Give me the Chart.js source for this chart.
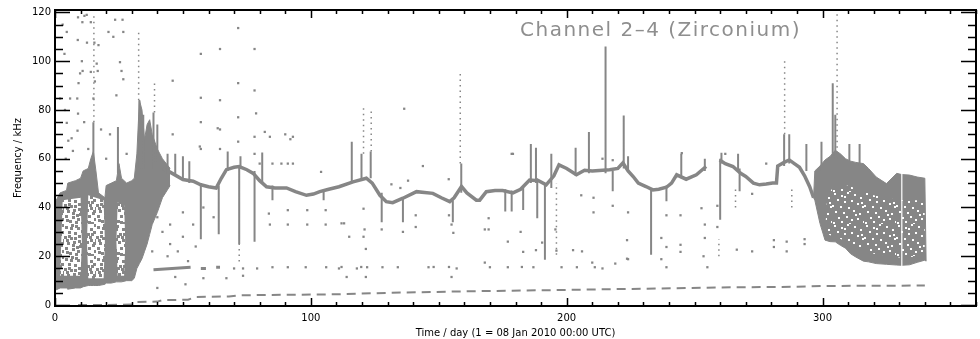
<!DOCTYPE html>
<html>
<head>
<meta charset="utf-8">
<script src="https://cdn.jsdelivr.net/npm/chart.js@4.4.1/dist/chart.umd.min.js"></script>
<style>
  html, body { margin: 0; padding: 0; background: #fff; }
</style>
</head>
<body>
<canvas id="chart" width="980" height="339"></canvas>
<script>
const TITLE = 'Channel 2\u20134 (Zirconium)';
const X_TITLE = 'Time / day (1 = 08 Jan 2010 00:00 UTC)';
const Y_TITLE = 'Frequency / kHz';
const xTicks = [0, 100, 200, 300];
const yTicks = [0, 20, 40, 60, 80, 100, 120];

// early noisy block (days 0-45), outer envelope
const earlyDays = [0, 2, 4.5, 5, 8, 10, 11, 13, 14, 15, 16, 17, 19.5, 20, 22, 24, 25, 26, 28, 30, 31, 32, 33, 34, 35, 36, 37, 38, 40, 42, 45];
const earlyTop  = [42, 46, 47, 50, 51, 52, 55, 56, 60, 63, 55, 46, 44, 49, 50, 51, 58, 52, 50, 51, 52, 62, 84, 80, 68, 74, 76, 70, 64, 60, 56];
const earlyBot  = [6, 7, 7, 6.5, 7, 7, 7.5, 8, 8, 8, 8, 8, 8.5, 9, 9, 9.5, 9.5, 9.5, 10, 10, 11, 15, 17, 19, 22, 25, 29, 33, 38, 44, 49];
// speckled (sparse) parts inside the early block
const earlyInDays = [2, 3, 10, 10.5, 12.5, 13, 19, 19.5, 24, 24.5, 27, 27.5];
const earlyInTop  = [12, 43, 44, 26, 26, 45, 43, 26, 26, 42, 41, 26];
const earlyInBot  = [12, 12, 12, 26, 26, 11, 11, 26, 26, 12, 12, 26];

// late broad block (days 296-341)
const lateDays = [296.5, 297, 299, 301, 303, 305, 307, 309, 311, 313, 316, 318, 321, 325, 329, 331, 334, 337, 340, 340.5];
const lateTop  = [44, 55, 57, 59.5, 61, 63.5, 62, 60, 59, 58.5, 58, 56, 52.5, 49.8, 54, 53.5, 53.3, 52.5, 52, 18];
const lateBot  = [44, 43, 33.5, 26.6, 26, 25.9, 24.5, 23.3, 21, 19.7, 18, 17.7, 17, 16.7, 16.4, 16.3, 16.5, 17.5, 18.4, 18];
const lateInDays = [301, 302, 310, 320, 330, 340];
const lateInTop  = [30, 47, 49, 45, 43, 43];
const lateInBot  = [30, 29, 26, 21, 19.5, 20];
const gapDays = [331];
const gapLo = [16];
const gapHi = [54.5];

// main ridge
const ridgeDays = [42, 45, 50, 54, 57, 60, 63, 65, 67, 70, 72, 75, 77.5, 80, 82.7, 86, 90.5, 94, 98.3, 101, 103.5, 107, 111, 116.5, 121.7, 124, 127, 129.5, 132, 136, 141.3, 147.7, 151, 154.3, 156, 158.9, 161, 164.7, 166, 168.6, 172, 175, 179, 182, 185.5, 189, 192, 195, 197, 200, 203.8, 207, 210, 216.8, 220, 222, 224, 226, 228, 231, 233.7, 236, 239, 241, 243, 246.7, 250.7, 254.5, 257, 259.8, 262, 265, 268, 270, 273, 275.4, 278, 280.5, 282, 282.5, 285, 287, 289, 291, 293, 295, 296.5];
const ridgeFreq = [56, 54.5, 51.5, 50.8, 49.3, 48.5, 48, 52, 55.5, 56.5, 56.8, 55.5, 54, 51, 48.5, 48, 48, 46.5, 45, 45.5, 46.5, 47.5, 48.5, 50.5, 52, 50, 45, 42.4, 42, 43.8, 46.5, 45.8, 44, 42.4, 44, 48.6, 46, 43, 43, 46.5, 47, 47, 46, 47.5, 51.3, 51, 49.3, 53, 57.5, 56, 53.4, 55.3, 55, 55.5, 56, 58.3, 55, 52.7, 50, 48.6, 47.2, 47.5, 48.3, 50, 53.4, 51.6, 53.4, 56.8, null, 59.5, 58, 56.8, 54, 52.7, 50, 49.3, 49.6, 50, 50, 57, 58.5, 59.5, 58, 56.5, 53, 48.5, 44];

// solid vertical excursions
const spikeDays = [15, 24.6, 33, 34.5, 38.5, 40, 44, 47, 50, 52.5, 57, 64, 67.5, 72, 72.5, 78, 81, 85, 105, 116, 119.8, 123.4, 127.7, 136, 155.5, 158.8, 176, 178.5, 183, 186, 188, 188.5, 191.5, 194, 203.5, 208.7, 215.2, 218, 222.3, 224, 233, 239, 244.8, 254, 260, 260.5, 267, 267.6, 285, 287, 293.7, 299.6, 304, 305, 310.5, 314.5];
const spikeLo   = [54, 54, 56, 56, 56, 56, 54, 53, 51, 50, 27, 29, 55, 25, 56, 26, 50, 43, 43, 50, 52, 52, 34, 34, 34, 46, 38.4, 38.4, 39, 50, 50, 35.6, 18.6, 48, 53, 54, 54, 46.7, 56, 55, 20.6, 42.6, 52, 55, 35, 58, 55, 46.7, 57, 58, 55, 55, 60, 60, 58, 57];
const spikeHi   = [75, 73, 84, 78, 79, 74, 62, 62, 61, 59, 50, 49, 63, 57, 61, 55, 62.6, 49, 47, 67, 62, 63, 46, 44, 43, 58, 47.5, 47, 48, 66, 64.5, 52, 50, 62, 64.5, 71, 106, 55, 77.7, 61, 48, 49, 62, 60, 60, 62.5, 62, 56, 70, 70, 66, 67, 91, 78, 66, 66];

// dotted vertical columns
const colDays = [15.2, 32.7, 38.9, 72, 120.6, 123.6, 158.4, 196, 259.5, 266, 285.2, 288, 305.7];
const colLo   = [75, 84, 79, 17.8, 62, 63, 58, 20.6, 20, 40, 70, 40, 60];
const colHi   = [120, 113, 91, 25, 81, 80, 95, 50, 27, 48, 100, 48, 121];

// low drifting trace
const lowDays = [9, 20, 30, 32, 40, 42, 52, 55, 68, 72, 110, 130, 160, 200, 230, 260, 290, 300, 340];
const lowFreq = [0, 0, 0.2, 1.2, 1.4, 2, 2.2, 3.3, 3.5, 4, 4.4, 5, 5.6, 6.2, 6.7, 7.2, 7.5, 7.8, 8];

// short band near 15 kHz
const band15Days = [38.5, 53, null, 57, 59, null, 63, 64.5];
const band15Freq = [14.5, 15.5, null, 15, 15, null, 15.5, 15.5];

// isolated points
const dotDays = [3, 9, 10.7, 11.5, 12.4, 14, 4.6, 8.9, 12.5, 15.4, 17, 10.5, 16.3, 16.7, 10.8, 9.8, 14, 9.2, 15.6, 8.7, 15, 5.9, 2, 3.9, 9, 4.6, 11.4, 8.8, 5.2, 7, 4.2, 20.9, 22.8, 23.5, 26.4, 26.7, 25.4, 26, 26.7, 24, 21.5, 6.5, 3.7, 18, 13, 28, 20,
  46, 46, 57, 57, 57, 57, 64.5, 64.5, 64.5, 64.5, 71.6, 71.6, 71.6, 71.6, 78, 78, 78.6, 78, 78, 90, 92, 93, 88.5, 91, 93, 136.5, 178.5, 262, 278, 56.6, 63.6, 82, 84, 80, 85, 104, 135, 131.5, 138, 143.8, 153.9, 179, 214, 218, 245,
  40, 42, 45, 48, 52, 55, 45, 50, 38, 44, 50, 58, 62, 54, 40, 51, 47, 58, 67,
  70, 73.5, 73.5, 79, 85, 91, 98, 106, 111, 118, 122, 128, 134, 146, 157, 170, 177, 187, 198, 204, 211, 214, 239, 255,
  112, 115, 121, 121.5, 112, 119.7, 148, 154, 114, 121.5, 155, 154, 155, 168, 168, 182.5, 190.4, 195.6, 196, 202.5, 210, 219, 224, 237, 237, 224, 218,
  91, 98.6, 105.8, 113, 83.6, 84, 91, 98.6, 105.8, 120.6, 120.6, 127.7, 141, 141, 136, 155.7, 169.5, 169.5, 177, 182, 183, 188, 206, 205.7, 210.5, 210.5, 223.6, 223.6, 239, 239, 252.7, 254, 254, 253.5, 266.5, 281, 281,
  244.5, 244.5, 244.5, 258.9, 258.9, 272.5, 272.5, 286, 286, 293, 293];
const dotFreq = [115, 118, 116, 118.6, 119, 116, 112, 108.7, 107.6, 107.6, 106.6, 100, 99, 96, 96, 95, 95.6, 91, 91.7, 84.7, 84.7, 84.7, 84.7, 80, 78.5, 74.7, 75, 71.5, 67.4, 63.2, 60, 112, 110, 117, 117, 112, 99.6, 96, 92.6, 86, 70, 68.4, 103, 72, 64, 62, 60,
  92, 70, 103, 85, 75, 64, 105, 84, 72, 64, 113.6, 91, 77, 67, 105, 88, 78.6, 69, 62, 70, 68, 69, 58, 58, 58, 80.5, 62, 62, 58, 65, 72.5, 71, 69, 58, 58, 54.6, 48, 49.5, 51, 57, 51.6, 62, 60, 59.4, 62.3,
  36, 30, 25, 22, 18, 24, 33, 28, 22, 20, 38, 40, 36, 33, 7, 8.5, 11.5, 11, 11,
  15, 15, 12, 15, 15.5, 15.5, 15.5, 15.5, 15, 15, 15.5, 15.5, 15.5, 15.5, 15, 15.5, 15.5, 15.5, 15.5, 15.5, 15.5, 15, 15.5, 15.5,
  33.5, 28, 31, 23, 15.6, 15.6, 15.6, 15.6, 11.5, 11.5, 11.5, 36.8, 33, 31, 17.4, 15.6, 25.6, 31, 22.3, 22.5, 17.4, 17, 18.8, 27.5, 18.8, 38, 40.7,
  38.9, 38.9, 38.9, 33.5, 37.5, 33, 33, 33, 33, 39.5, 28, 31, 36.8, 32, 30, 29.6, 35.6, 31, 26, 30, 21.8, 22.5, 22, 45, 44, 38, 26.6, 19, 36.8, 23.8, 39.7, 33, 27.5, 20, 22.7, 26.6, 23.8,
  36.8, 24.7, 21.8, 40.7, 32, 45.6, 22, 26, 22, 27, 25];

const GRAY = '#868686';
const font = { family: '"DejaVu Sans", sans-serif', size: 10 };

const pts = (xs, ys) => xs.map((x, i) => ({ x: x, y: ys[i] }));
const segs = (xs, lo, hi) => xs.flatMap((x, i) => [{ x: x, y: lo[i] }, { x: x, y: hi[i] }, { x: x, y: null }]);

const canvas = document.getElementById('chart');
const ctx = canvas.getContext('2d');

// speckle tiles (32x32) for the noisy regions
function speckle(base, spot, spots, w, h) {
    const tile = document.createElement('canvas');
    tile.width = 32;
    tile.height = 32;
    const g = tile.getContext('2d');
    g.fillStyle = base;
    g.fillRect(0, 0, 32, 32);
    g.fillStyle = spot;
    spots.forEach(([sx, sy]) => g.fillRect(sx, sy, w, h));
    return ctx.createPattern(tile, 'repeat');
}
const lightSpots = [[1, 2], [7, 0], [13, 3], [20, 1], [26, 4], [30, 0], [4, 7], [10, 8], [17, 6], [23, 9], [29, 7], [0, 12], [6, 13], [14, 11], [19, 14], [25, 12], [31, 15],
    [3, 18], [9, 17], [16, 19], [22, 17], [28, 20], [1, 23], [8, 24], [12, 22], [18, 25], [24, 23], [30, 26], [5, 28], [11, 29], [17, 30], [21, 28], [27, 30], [14, 16], [6, 3], [24, 29],
    [10, 13], [27, 9], [2, 27], [19, 4], [13, 26], [29, 18], [4, 11], [21, 11], [15, 21], [26, 15], [8, 20], [2, 15], [11, 1], [18, 28]];
const darkSpots = [[2, 1], [9, 3], [15, 0], [22, 2], [28, 5], [5, 7], [12, 9], [19, 8], [25, 11], [0, 13], [8, 14], [16, 15], [30, 14], [3, 19], [11, 20], [21, 18], [27, 21],
    [6, 25], [14, 24], [19, 27], [25, 26], [31, 29], [1, 30], [9, 29], [17, 31], [23, 22], [12, 4], [29, 10]];
const lightSpeckle = speckle('#ffffff', GRAY, lightSpots, 3, 3);
const darkSpeckle = speckle(GRAY, '#ffffff', darkSpots, 2, 2);

const edge = (data, extra) => Object.assign({ data: data, borderWidth: 0, pointRadius: 0, fill: false }, extra);

const frameTicks = {
    id: 'frameTicks',
    afterDraw(chart) {
        const { ctx: c, chartArea: a, scales: { x, y } } = chart;
        c.save();
        c.strokeStyle = '#000';
        c.lineWidth = 1.5;
        c.beginPath();
        for (let v = 0; v <= 360; v += 10) {
            const px = Math.round(x.getPixelForValue(v)) + 0.5;
            const len = v % 100 === 0 ? 8 : 4;
            c.moveTo(px, a.bottom); c.lineTo(px, a.bottom - len);
            c.moveTo(px, a.top); c.lineTo(px, a.top + len);
        }
        for (let v = 0; v <= 120; v += 5) {
            const py = Math.round(y.getPixelForValue(v)) + 0.5;
            const len = v % 20 === 0 ? 15 : 8;
            c.moveTo(a.left, py); c.lineTo(a.left + len, py);
            c.moveTo(a.right, py); c.lineTo(a.right - len, py);
        }
        c.stroke();
        c.lineWidth = 2;
        c.strokeRect(a.left, a.top, a.right - a.left, a.bottom - a.top);
        // title inside the plot
        c.fillStyle = '#8e8e8e';
        c.font = '20px "DejaVu Sans", sans-serif';
        c.letterSpacing = '1.5px';
        c.textBaseline = 'alphabetic';
        c.fillText(TITLE, 520, 36);
        c.restore();
    }
};

new Chart(ctx, {
    type: 'line',
    data: {
        datasets: [
            { data: segs(gapDays, gapLo, gapHi), borderColor: '#ffffff', borderWidth: 1.2, pointRadius: 0 },
            { data: pts(dotDays, dotFreq), showLine: false, pointStyle: 'rect', pointRadius: 1.6, pointBorderWidth: 0, pointBackgroundColor: GRAY },
            { data: segs(colDays, colLo, colHi), borderColor: GRAY, borderWidth: 1.5, borderDash: [1.5, 4], pointRadius: 0 },
            { data: segs(spikeDays, spikeLo, spikeHi), borderColor: GRAY, borderWidth: 2, pointRadius: 0 },
            { data: pts(ridgeDays, ridgeFreq), borderColor: GRAY, borderWidth: 3.5, pointRadius: 0 },
            { data: pts(band15Days, band15Freq), borderColor: GRAY, borderWidth: 3, pointRadius: 0 },
            { data: pts(lowDays, lowFreq), borderColor: GRAY, borderWidth: 2, borderDash: [9, 6], pointRadius: 0 },
            edge(pts(lateInDays, lateInTop), { fill: '+1', backgroundColor: darkSpeckle }),
            edge(pts(lateInDays, lateInBot)),
            edge(pts(lateDays, lateTop), { fill: '+1', backgroundColor: GRAY, borderColor: GRAY, borderWidth: 1 }),
            edge(pts(lateDays, lateBot), { borderColor: GRAY, borderWidth: 1 }),
            edge(pts(earlyInDays, earlyInTop), { fill: '+1', backgroundColor: lightSpeckle }),
            edge(pts(earlyInDays, earlyInBot)),
            edge(pts(earlyDays, earlyTop), { fill: '+1', backgroundColor: GRAY, borderColor: GRAY, borderWidth: 1 }),
            edge(pts(earlyDays, earlyBot), { borderColor: GRAY, borderWidth: 1 })
        ]
    },
    options: {
        responsive: false,
        animation: false,
        layout: { padding: { top: 10, right: 3, left: 0, bottom: 0 } },
        plugins: { legend: { display: false }, tooltip: { enabled: false } },
        elements: { line: { tension: 0 } },
        scales: {
            x: {
                type: 'linear', min: 0, max: 360,
                afterFit: s => { s.height = 33; },
                afterBuildTicks: s => { s.ticks = xTicks.map(v => ({ value: v })); },
                grid: { display: false, drawTicks: false },
                border: { display: false },
                ticks: { font: font, color: '#000', padding: 6, maxRotation: 0 },
                title: { display: true, text: X_TITLE, font: font, color: '#000', padding: 0 }
            },
            y: {
                type: 'linear', min: -0.4, max: 121,
                afterFit: s => { s.width = 55; },
                afterBuildTicks: s => { s.ticks = yTicks.map(v => ({ value: v })); },
                grid: { display: false, drawTicks: false },
                border: { display: false },
                ticks: { font: font, color: '#000', padding: 4 },
                title: { display: true, text: Y_TITLE, font: font, color: '#000', padding: { top: 12, bottom: 0 } }
            }
        }
    },
    plugins: [frameTicks]
});
</script>
</body>
</html>
